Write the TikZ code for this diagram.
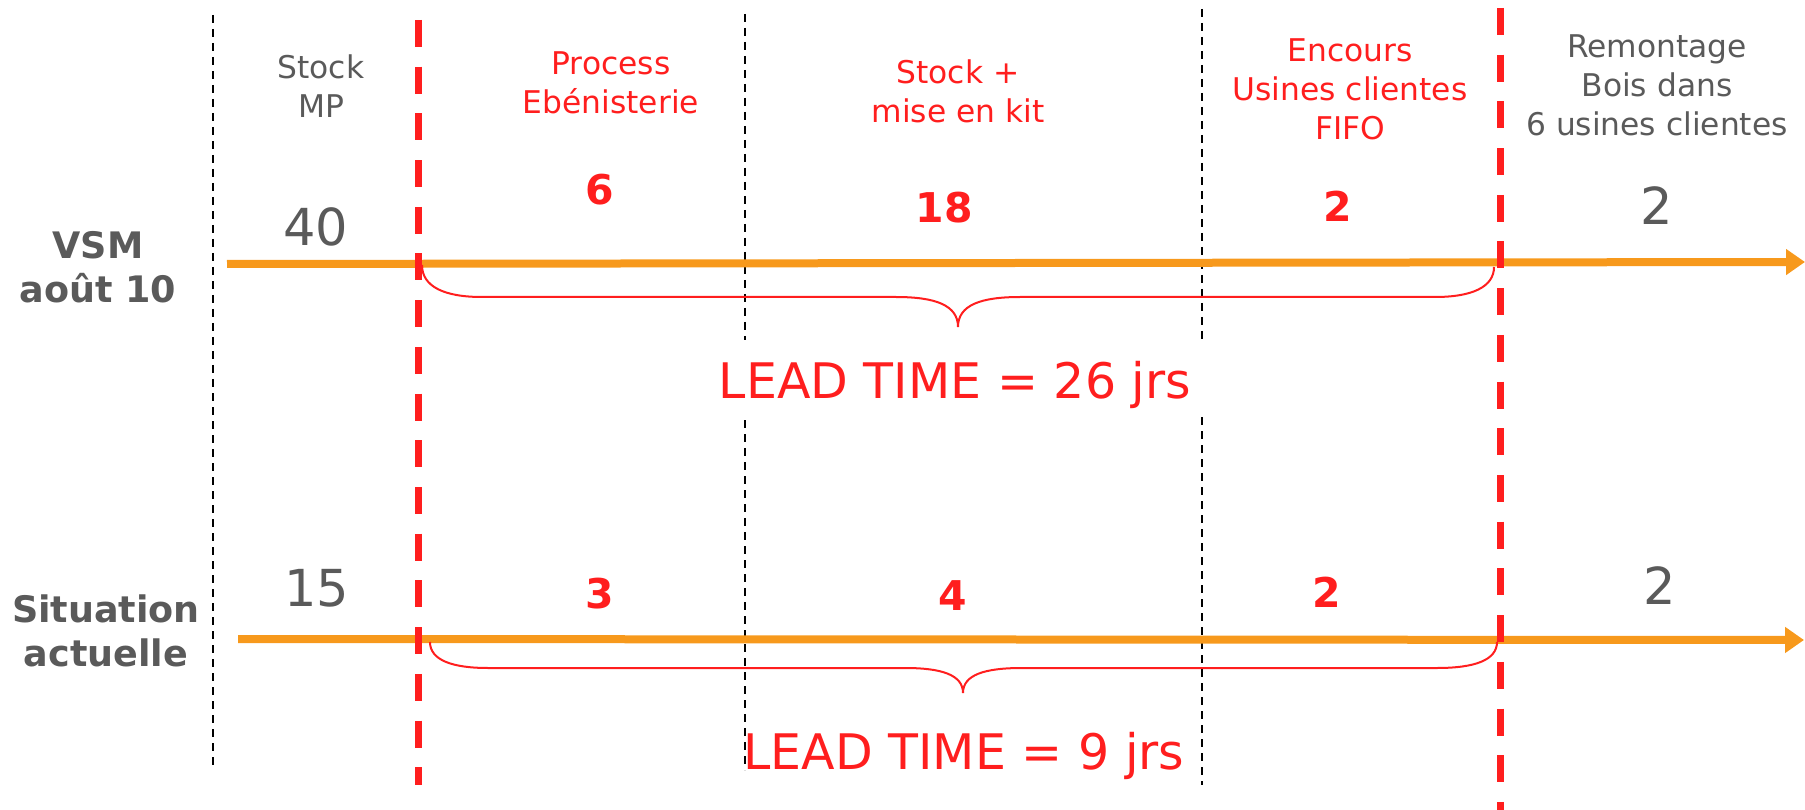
\documentclass[tikz,border=0pt]{standalone}
\usepackage{fontspec}
\setmainfont{DejaVu Sans}
\usetikzlibrary{arrows.meta}
\definecolor{vsmred}{HTML}{FF1E1E}
\definecolor{vsmorange}{HTML}{F7991C}
\definecolor{vsmgray}{HTML}{5A5A5A}
\tikzset{
  txt/.style={inner sep=0pt, outer sep=0pt, anchor=base, align=center},
  header/.style={txt, font=\fontsize{31.3}{39}\selectfont},
  grayhead/.style={header, text=vsmgray},
  redhead/.style={header, text=vsmred},
  bignum/.style={txt, text=vsmgray, font=\fontsize{51}{60}\selectfont},
  rednum/.style={txt, text=vsmred, font=\fontsize{41}{50}\selectfont\bfseries},
  rowlabel/.style={txt, text=vsmgray, font=\fontsize{36.5}{44}\selectfont\bfseries},
  leadtxt/.style={txt, text=vsmred, font=\fontsize{49}{58}\selectfont},
  sepline/.style={black, line width=1.5pt, dash pattern=on 8pt off 6pt},
  bigsep/.style={vsmred, line width=7pt, dash pattern=on 27pt off 19.7pt},
  flow/.style={vsmorange, line width=8pt, -{Triangle[length=19pt,width=25pt]}},
  bracestyle/.style={vsmred, line width=2pt}
}
\begin{document}
\begin{tikzpicture}[x=1pt,y=-1pt]
\useasboundingbox (0,0) rectangle (1805,810);
% column separators
\draw[sepline] (213,15) -- (213,765);
\draw[sepline] (745,14) -- (745,340);
\draw[sepline] (745,420) -- (745,770);
\draw[sepline] (1202,9) -- (1202,340);
\draw[sepline] (1202,417) -- (1202,785);
% flow arrows
\coordinate (a1s) at (227,264);
\coordinate (a1e) at (1805,262);
\coordinate (a2s) at (238,639);
\coordinate (a2e) at (1804,640);
\draw[flow] (a1s) -- (a1e);
\draw[flow] (a2s) -- (a2e);
% red boundaries
\draw[bigsep] (418,20) -- (418,785);
\draw[bigsep] (1500,8) -- (1500,810);
% braces
\coordinate (b1l) at (422,265);
\coordinate (b1r) at (1494,267);
\coordinate (b2l) at (430,642);
\coordinate (b2r) at (1497,642);
\draw[bracestyle] (b1l) .. controls (422,287) and (445,297) .. (482,297) -- (896,297)
  .. controls (935,297) and (958,305) .. (958,327)
  .. controls (958,305) and (981,297) .. (1020,297) -- (1435,297)
  .. controls (1472,297) and (1494,287) .. (b1r);
\draw[bracestyle] (b2l) .. controls (430,660) and (452,668) .. (488,668) -- (905,668)
  .. controls (942,668) and (963,675) .. (963,693)
  .. controls (963,675) and (984,668) .. (1022,668) -- (1437,668)
  .. controls (1475,668) and (1497,660) .. (b2r);
% headers (anchored at the baseline of their last line)
\node[grayhead] (hstock) at (321,118) {Stock\\MP};
\node[redhead] (hproc) at (611,114) {Process\\Ebénisterie};
\node[redhead] (hkit) at (958,123) {Stock +\\mise en kit};
\node[redhead] (henc) at (1350,140) {Encours\\Usines clientes\\FIFO};
\node[grayhead] (hrem) at (1657,136) {Remontage\\Bois dans\\6 usines clientes};
% row labels
\node[rowlabel] (lvsm) at (98,303) {VSM\\août 10};
\node[rowlabel] (lact) at (106,666) {Situation\\actuelle};
% row 1 values
\node[bignum] (v40) at (316,246) {40};
\node[rednum] (v6) at (600,205) {6};
\node[rednum] (v18) at (944,223) {18};
\node[rednum] (v2a) at (1338,222) {2};
\node[bignum] (v2b) at (1657,225) {2};
% row 2 values
\node[bignum] (w15) at (317,606) {15};
\node[rednum] (w3) at (600,608) {3};
\node[rednum] (w4) at (953,610) {4};
\node[rednum] (w2a) at (1327,607) {2};
\node[bignum] (w2b) at (1660,604) {2};
% lead times
\node[leadtxt] (lt1) at (955,398) {LEAD TIME = 26 jrs};
\node[leadtxt] (lt2) at (964,769) {LEAD TIME = 9 jrs};
\end{tikzpicture}
\end{document}
